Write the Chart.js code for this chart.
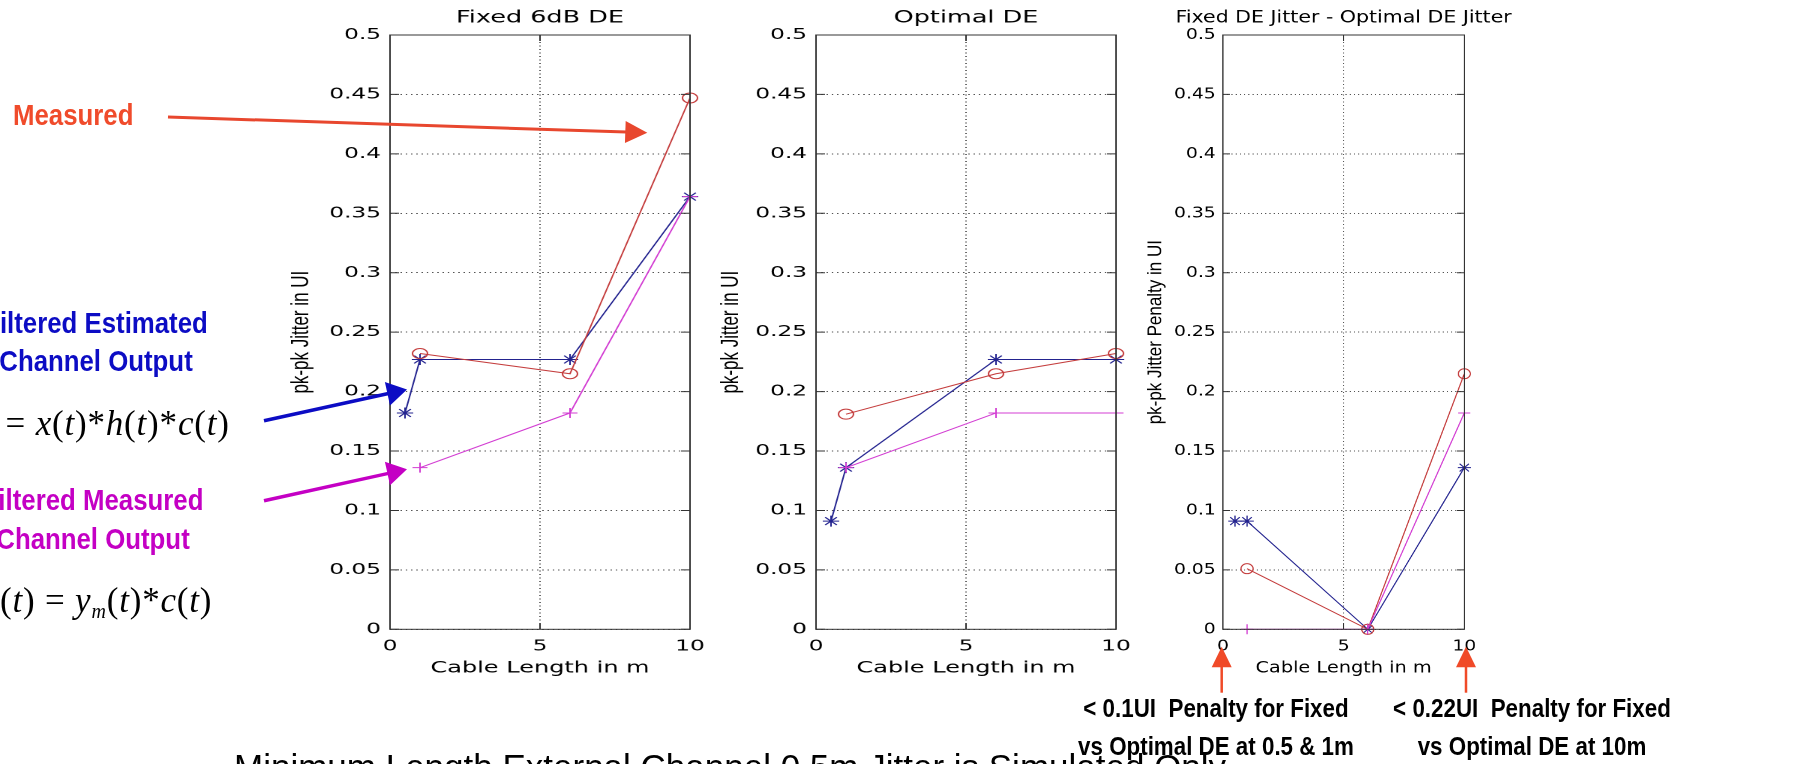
<!DOCTYPE html>
<html>
<head>
<meta charset="utf-8">
<script src="https://cdn.jsdelivr.net/npm/chart.js@4.4.0/dist/chart.umd.min.js"></script>
<style>
  html, body { margin: 0; padding: 0; background: #fff; }
  body { width: 1800px; height: 764px; position: relative; overflow: hidden; }
  .plot { position: absolute; top: 0; width: 332px; height: 700px; transform-origin: 0 0; }
  .note { position: absolute; white-space: pre; font-family: 'Liberation Sans', Arial, sans-serif; font-weight: bold; z-index: 3; }
  .eq { position: absolute; white-space: pre; font-family: 'Liberation Serif', 'Times New Roman', serif; font-size: 35px; line-height: 40px; letter-spacing: 0.8px; color: #000; z-index: 3; }
  .eq sub { font-size: 20px; vertical-align: -6px; line-height: 0; }
  #arrows { position: absolute; left: 0; top: 0; z-index: 2; }
</style>
</head>
<body>

<div class="plot" id="p1" style="left:281.7px; transform:scaleX(1.5)"><canvas id="c1"></canvas></div>
<div class="plot" id="p2" style="left:707.7px; transform:scaleX(1.5)"><canvas id="c2"></canvas></div>
<div class="plot" id="p3" style="left:1136.4px; transform:scaleX(1.207)"><canvas id="c3"></canvas></div>

<svg id="arrows" width="1800" height="764"></svg>

<div class="note" style="left:12.7px; top:96.3px; font-size:30px; line-height:38px; color:#f04b2b; transform:scaleX(0.86); transform-origin:0 0">Measured</div>
<div class="note" style="left:-104px; width:400px; top:303.7px; text-align:center; font-size:30px; line-height:38.4px; color:#0c0cc4; transform:scaleX(0.86); transform-origin:50% 0">Filtered Estimated
Channel Output</div>
<div class="note" style="left:-107px; width:400px; top:479.5px; text-align:center; font-size:30px; line-height:39.3px; color:#c400c4; transform:scaleX(0.86); transform-origin:50% 0">Filtered Measured
Channel Output</div>

<div class="eq" style="left:5.6px; top:403.5px">= <i>x</i>(<i>t</i>)*<i>h</i>(<i>t</i>)*<i>c</i>(<i>t</i>)</div>
<div class="eq" style="left:0px; top:581px">(<i>t</i>) = <i>y</i><sub><i>m</i></sub>(<i>t</i>)*<i>c</i>(<i>t</i>)</div>

<div class="note" style="left:234px; top:746.9px; font-size:35px; line-height:40px; font-weight:normal; color:#000">Minimum Length External Channel 0.5m Jitter is Simulated Only</div>
<div class="note" style="left:966px; width:500px; top:688.5px; text-align:center; font-size:26px; line-height:38.3px; color:#000; transform:scaleX(0.86); transform-origin:50% 0">&lt; 0.1UI  Penalty for Fixed
vs Optimal DE at 0.5 &amp; 1m</div>
<div class="note" style="left:1282px; width:500px; top:688.5px; text-align:center; font-size:26px; line-height:38.3px; color:#000; transform:scaleX(0.86); transform-origin:50% 0">&lt; 0.22UI  Penalty for Fixed
vs Optimal DE at 10m</div>

<script>
  const cableLength = [0.5, 1, 6, 10];

  // Fixed 6dB DE
  const fixedMeasured = [null, 0.232, 0.215, 0.447];
  const fixedEstimated = [0.182, 0.227, 0.227, 0.364];
  const fixedFiltered = [null, 0.136, 0.182, 0.364];

  // Optimal DE
  const optMeasured = [null, 0.181, 0.215, 0.232];
  const optEstimated = [0.091, 0.136, 0.227, 0.227];
  const optFiltered = [null, 0.136, 0.182, 0.182];

  // Fixed DE jitter - optimal DE jitter
  const penMeasured = [null, 0.051, 0, 0.215];
  const penEstimated = [0.091, 0.091, 0, 0.136];
  const penFiltered = [null, 0, 0, 0.182];

  const xTickLabels = ['0', '5', '10'];
  const yTickLabels = ['0', '0.05', '0.1', '0.15', '0.2', '0.25', '0.3', '0.35', '0.4', '0.45', '0.5'];

  const RED = '#c43c3c';
  const BLUE = '#23238f';
  const MAGENTA = '#d23cd2';

  // box, inner tick marks and the title drawn like a matlab axes
  const framePlugin = {
    id: 'frame',
    afterDatasetsDraw(chart) {
      const { ctx, chartArea: a, scales } = chart;
      ctx.save();
      ctx.strokeStyle = '#333';
      ctx.lineWidth = 1;
      ctx.strokeRect(a.left, a.top, a.right - a.left, a.bottom - a.top);
      ctx.beginPath();
      scales.y.ticks.forEach(function(t) {
        const y = scales.y.getPixelForValue(t.value);
        ctx.moveTo(a.left, y); ctx.lineTo(a.left + 6, y);
        ctx.moveTo(a.right, y); ctx.lineTo(a.right - 6, y);
      });
      scales.x.ticks.forEach(function(t) {
        const x = scales.x.getPixelForValue(t.value);
        ctx.moveTo(x, a.bottom); ctx.lineTo(x, a.bottom - 6);
        ctx.moveTo(x, a.top); ctx.lineTo(x, a.top + 6);
      });
      ctx.stroke();
      ctx.restore();
    },
    afterDraw(chart, args, opts) {
      const { ctx, chartArea: a } = chart;
      ctx.save();
      ctx.fillStyle = '#000';
      ctx.font = '17px "DejaVu Sans"';
      ctx.textAlign = 'center';
      ctx.textBaseline = 'alphabetic';
      ctx.fillText(opts.title, (a.left + a.right) / 2, 22.5);
      ctx.restore();
    }
  };

  function series(values, color, style, radius) {
    return {
      data: cableLength.map(function(x, i) { return { x: x, y: values[i] }; }),
      borderColor: color,
      borderWidth: 1,
      pointStyle: style,
      pointRadius: radius,
      pointBorderWidth: 1,
      pointBorderColor: color,
      pointBackgroundColor: 'rgba(0,0,0,0)',
      tension: 0,
      fill: false,
      clip: false
    };
  }

  function makeChart(id, title, yTitle, yTitlePad, measured, estimated, filtered) {
    const tickFont = { family: 'DejaVu Sans', size: 15.5 };
    return new Chart(document.getElementById(id), {
      type: 'line',
      data: {
        datasets: [
          series(filtered, MAGENTA, 'cross', 5),
          series(measured, RED, 'circle', 5),
          series(estimated, BLUE, 'star', 5.5)
        ]
      },
      plugins: [framePlugin],
      options: {
        devicePixelRatio: 2,
        animation: false,
        responsive: true,
        maintainAspectRatio: false,
        layout: { padding: { top: 35, right: 60, left: 0, bottom: 0 } },
        plugins: {
          legend: { display: false },
          tooltip: { enabled: false },
          frame: { title: title }
        },
        scales: {
          x: {
            type: 'linear',
            min: 0,
            max: 10,
            afterBuildTicks: function(s) { s.ticks = xTickLabels.map(function(t) { return { value: parseFloat(t) }; }); },
            afterFit: function(s) { s.height = 70.7; },
            grid: { color: '#555', lineWidth: 1, drawTicks: false },
            border: { display: false, dash: [1, 2.5] },
            ticks: { padding: 8, color: '#000', font: tickFont, maxRotation: 0, autoSkip: false,
              callback: function(v, i) { return xTickLabels[i]; } },
            title: { display: true, text: 'Cable Length in m', color: '#000',
              font: { family: 'DejaVu Sans', size: 16 }, padding: { top: 0, bottom: 22 } }
          },
          y: {
            type: 'linear',
            min: 0,
            max: 0.5,
            afterBuildTicks: function(s) { s.ticks = yTickLabels.map(function(t) { return { value: parseFloat(t) }; }); },
            afterFit: function(s) { s.width = 72; },
            grid: { color: '#555', lineWidth: 1, drawTicks: false },
            border: { display: false, dash: [1, 2.5] },
            ticks: { padding: 6, color: '#000', font: tickFont, autoSkip: false,
              callback: function(v, i) { return yTickLabels[i]; } },
            title: { display: true, text: yTitle, color: '#000',
              font: { family: 'Liberation Sans', size: 17 }, padding: { top: yTitlePad, bottom: 0 } }
          }
        }
      }
    });
  }

  makeChart('c1', 'Fixed 6dB DE', 'pk-pk Jitter in UI', 2.7, fixedMeasured, fixedEstimated, fixedFiltered);
  makeChart('c2', 'Optimal DE', 'pk-pk Jitter in UI', 5.2, optMeasured, optEstimated, optFiltered);
  makeChart('c3', 'Fixed DE Jitter - Optimal DE Jitter', 'pk-pk Jitter Penalty in UI', 6, penMeasured, penEstimated, penFiltered);

  // callout arrows
  function arrow(x1, y1, x2, y2, color, width, len, half) {
    const svg = document.getElementById('arrows');
    const ns = 'http://www.w3.org/2000/svg';
    const d = Math.hypot(x2 - x1, y2 - y1);
    const ux = (x2 - x1) / d, uy = (y2 - y1) / d;
    const bx = x2 - ux * len, by = y2 - uy * len;
    const line = document.createElementNS(ns, 'line');
    line.setAttribute('x1', x1); line.setAttribute('y1', y1);
    line.setAttribute('x2', bx + ux); line.setAttribute('y2', by + uy);
    line.setAttribute('stroke', color); line.setAttribute('stroke-width', width);
    svg.appendChild(line);
    const head = document.createElementNS(ns, 'polygon');
    head.setAttribute('points', [
      x2 + ',' + y2,
      (bx - uy * half) + ',' + (by + ux * half),
      (bx + uy * half) + ',' + (by - ux * half)
    ].join(' '));
    head.setAttribute('fill', color);
    svg.appendChild(head);
  }

  arrow(168, 117, 647.3, 132.7, '#e8472e', 3, 22, 11);
  arrow(264, 420.7, 407, 389.5, '#0c0cc4', 3.5, 20, 12);
  arrow(264, 500.7, 407, 469.3, '#c400c4', 3.5, 20, 12);
  arrow(1221.7, 692.7, 1221.7, 646.7, '#f04a28', 2.5, 20.6, 10);
  arrow(1466, 692.7, 1466, 646.7, '#f04a28', 2.5, 20.6, 10);
</script>
</body>
</html>
